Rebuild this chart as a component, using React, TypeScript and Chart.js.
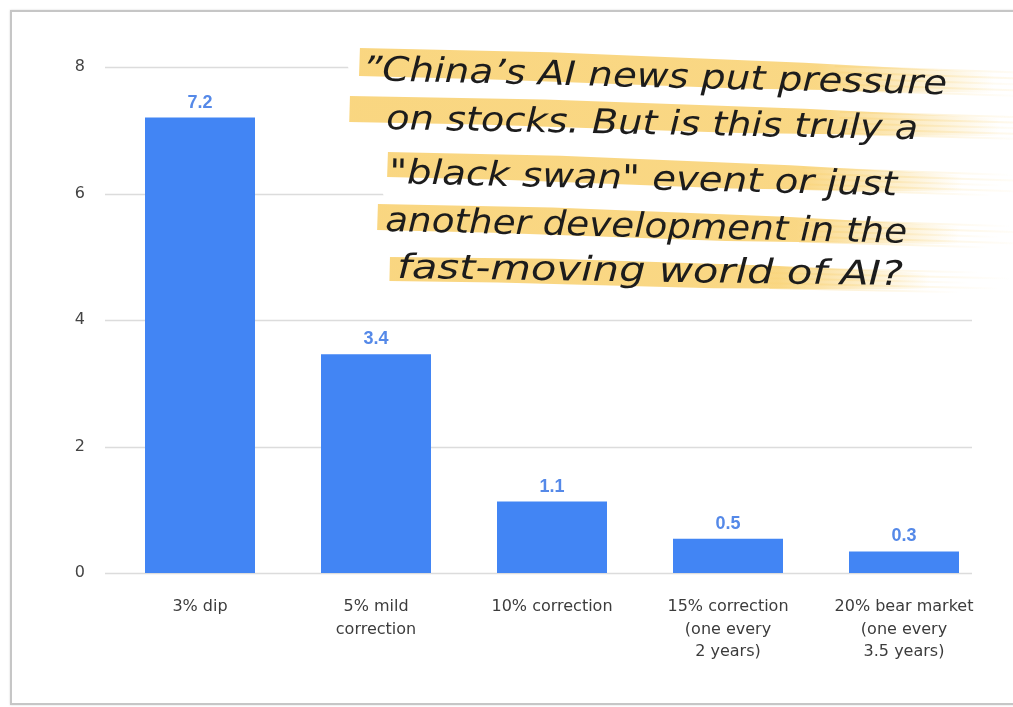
import React, { useEffect, useRef } from 'react';
import { Chart, registerables } from 'chart.js';

Chart.register(...registerables);

// ---- data ----
const categories: string[][] = [
  ['3% dip'],
  ['5% mild', 'correction'],
  ['10% correction'],
  ['15% correction', '(one every', '2 years)'],
  ['20% bear market', '(one every', '3.5 years)'],
];
const values: number[] = [7.2, 3.46, 1.13, 0.54, 0.34];
const yTicks: number[] = [0, 2, 4, 6, 8];
const noteLines: string[] = [
  '\u201DChina\u2019s AI news put pressure',
  'on stocks. But is this truly a',
  '"black swan" event or just',
  'another development in the',
  'fast-moving world of AI?',
];

// ---- annotation layout (positions only) ----
// [textLeft, baseline, textWidth, angleDeg, stripLeft, stripTop, stripLen, stripH]
const noteLayout: number[][] = [
  [362, 80, 585, 1.4, 360, 46, 635, 30],
  [386, 129, 532, 1.1, 350, 94, 650, 28],
  [389, 183, 508, 1.4, 388, 150, 575, 27],
  [385, 231, 522, 1.3, 378, 202, 582, 28],
  [397, 278, 506, 0.8, 390, 255, 540, 26],
];

const BAR_COLOR = '#4285f4';
const LABEL_COLOR = '#5589e8';
const GRID_COLOR = '#dcdcdc';

const fmt = (v: number) => (Math.floor(v * 10 + 1e-9) / 10).toFixed(1);

function drawStrip(ctx: CanvasRenderingContext2D, x0: number, y0: number, len: number, h: number, angDeg: number) {
  ctx.save();
  ctx.translate(x0, y0);
  ctx.rotate((angDeg * Math.PI) / 180);
  const g = ctx.createLinearGradient(0, 0, len, 0);
  g.addColorStop(0, 'rgba(249,212,122,0.95)');
  g.addColorStop(0.72, 'rgba(249,212,122,0.92)');
  g.addColorStop(1, 'rgba(249,212,122,0)');
  ctx.fillStyle = g;
  ctx.beginPath();
  ctx.moveTo(0, 2);
  ctx.lineTo(len * 0.3, 0);
  ctx.lineTo(len * 0.7, 2);
  ctx.lineTo(len, 6);
  ctx.lineTo(len, h - 4);
  ctx.lineTo(len * 0.6, h);
  ctx.lineTo(len * 0.2, h - 1);
  ctx.lineTo(0, h);
  ctx.closePath();
  ctx.fill();
  const streaks = [
    [0.12, 50],
    [0.32, 80],
    [0.52, 40],
    [0.72, 70],
    [0.9, 30],
  ];
  for (const [fy, ext] of streaks) {
    const gs = ctx.createLinearGradient(len - 160, 0, len + ext, 0);
    gs.addColorStop(0, 'rgba(249,212,122,0.5)');
    gs.addColorStop(1, 'rgba(249,212,122,0)');
    ctx.fillStyle = gs;
    ctx.fillRect(len - 160, fy * h, 160 + ext, 2);
  }
  ctx.restore();
}

const gridPlugin = {
  id: 'customGrid',
  beforeDatasetsDraw(chart: any) {
    const { ctx, chartArea } = chart;
    const y = chart.scales.y;
    ctx.save();
    ctx.strokeStyle = GRID_COLOR;
    ctx.lineWidth = 1.6;
    for (const t of yTicks) {
      const py = Math.round(y.getPixelForValue(t)) + 0.5;
      ctx.beginPath();
      ctx.moveTo(chartArea.left - 7, py);
      ctx.lineTo(chartArea.right - 20, py);
      ctx.stroke();
    }
    ctx.restore();
  },
};

const valueLabelPlugin = {
  id: 'valueLabels',
  afterDatasetsDraw(chart: any) {
    const { ctx } = chart;
    const meta = chart.getDatasetMeta(0);
    ctx.save();
    ctx.font = 'bold 18px "Liberation Sans", Arial, sans-serif';
    ctx.fillStyle = LABEL_COLOR;
    ctx.textAlign = 'center';
    ctx.textBaseline = 'alphabetic';
    meta.data.forEach((bar: any, i: number) => {
      ctx.fillText(fmt(values[i]), bar.x, bar.y - 10);
    });
    ctx.restore();
  },
};

const notePlugin = {
  id: 'note',
  afterDraw(chart: any) {
    const { ctx } = chart;
    ctx.save();
    // white backing that hides the gridlines behind the note
    ctx.fillStyle = '#ffffff';
    ctx.beginPath();
    ctx.moveTo(339, 34);
    ctx.lineTo(1000, 34);
    ctx.lineTo(1000, 306);
    ctx.lineTo(414, 306);
    ctx.closePath();
    ctx.fill();
    noteLayout.forEach((l) => {
      drawStrip(ctx, l[4], l[5], l[6], l[7], l[3] + 0.5);
    });
    ctx.fillStyle = '#1c1c1c';
    ctx.textAlign = 'left';
    ctx.textBaseline = 'alphabetic';
    ctx.font = 'italic 200 34px "DejaVu Sans", sans-serif';
    noteLines.forEach((text, i) => {
      const l = noteLayout[i];
      const w = ctx.measureText(text).width;
      ctx.save();
      ctx.translate(l[0], l[1]);
      ctx.rotate((l[3] * Math.PI) / 180);
      ctx.scale(l[2] / w, 1);
      ctx.fillText(text, 0, 0);
      ctx.restore();
    });
    ctx.restore();
  },
};

export default function App() {
  const canvasRef = useRef<HTMLCanvasElement | null>(null);

  useEffect(() => {
    const canvas = canvasRef.current;
    if (!canvas) return;
    const chart = new Chart(canvas, {
      type: 'bar',
      data: {
        labels: categories,
        datasets: [
          {
            data: values,
            backgroundColor: BAR_COLOR,
            borderWidth: 0,
            categoryPercentage: 1,
            barPercentage: 0.625,
          },
        ],
      },
      options: {
        responsive: false,
        animation: false,
        devicePixelRatio: 1,
        layout: { padding: { top: 67, right: 21, bottom: 0, left: 0 } },
        plugins: {
          legend: { display: false },
          tooltip: { enabled: false },
          title: { display: false },
        },
        scales: {
          x: {
            grid: { display: false },
            border: { display: false },
            ticks: {
              color: '#3c3c3c',
              font: { family: '"DejaVu Sans", sans-serif', size: 16, lineHeight: 1.4 },
              padding: 15,
              maxRotation: 0,
              autoSkip: false,
            },
            afterFit(scale: any) {
              scale.height = 134;
            },
          },
          y: {
            min: 0,
            max: 8,
            grid: { display: false },
            border: { display: false },
            ticks: {
              stepSize: 2,
              color: '#444444',
              font: { family: '"DejaVu Sans", sans-serif', size: 16 },
              padding: 19,
            },
            afterFit(scale: any) {
              scale.width = 112;
            },
          },
        },
      },
      plugins: [gridPlugin, valueLabelPlugin, notePlugin],
    });
    return () => chart.destroy();
  }, []);

  return (
    <div
      style={{
        position: 'fixed',
        left: 0,
        top: 0,
        width: 1013,
        height: 707,
        overflow: 'hidden',
        background: '#ffffff',
      }}
    >
      <div
        style={{
          position: 'absolute',
          left: 10,
          top: 10,
          width: 1030,
          height: 695,
          boxSizing: 'border-box',
          border: '2px solid #c6c6c6',
          boxShadow: '0 0 2px rgba(0,0,0,0.15)',
        }}
      />
      <canvas
        ref={canvasRef}
        width={1013}
        height={707}
        style={{ position: 'absolute', left: 0, top: 0, width: 1013, height: 707 }}
      />
    </div>
  );
}
